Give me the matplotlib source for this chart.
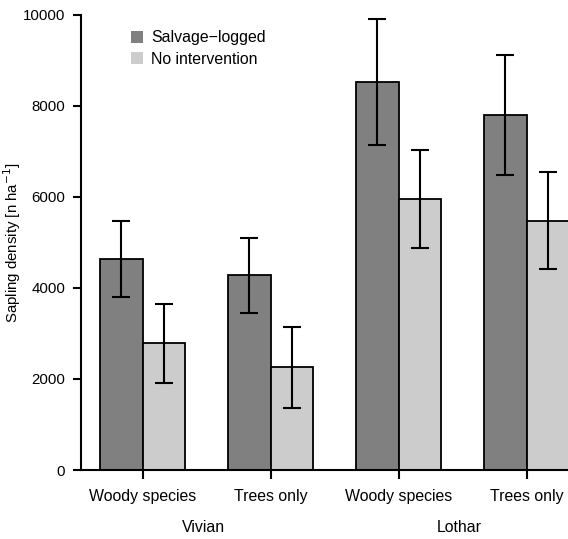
import matplotlib
matplotlib.use("Agg")
import matplotlib.pyplot as plt
from matplotlib.patches import Patch
import matplotlib.transforms as mtransforms

plt.rcParams['font.family'] = ['Liberation Sans', 'DejaVu Sans']

# Sapling density data
groups = ["Vivian", "Lothar"]
categories = ["Woody species", "Trees only", "Woody species", "Trees only"]
salvage_mean = [4630, 4276, 8520, 7790]
salvage_err = [840, 820, 1380, 1315]
nointerv_mean = [2780, 2255, 5950, 5470]
nointerv_err = [860, 890, 1075, 1065]
series_names = ["Salvage\u2212logged", "No intervention"]
colors = ["#808080", "#cccccc"]
yticks = [0, 2000, 4000, 6000, 8000, 10000]

W, H = 568, 539
fig = plt.figure(figsize=(W / 100, H / 100), dpi=100)
ax = fig.add_axes([80.7 / W, 1 - 470 / H, (W - 80.7) / W, (470 - 14.7) / H])

fs = 11.4
fs_num = 10.8
# bar layout: two bars of unit width per group, one unit gap between groups
n = len(categories)
left_dark = [1 + 3 * i for i in range(n)]
left_light = [2 + 3 * i for i in range(n)]
centers = [2 + 3 * i for i in range(n)]

ax.bar(left_dark, salvage_mean, width=1, align='edge', color=colors[0],
       edgecolor='black', linewidth=1.3, zorder=2)
ax.bar(left_light, nointerv_mean, width=1, align='edge', color=colors[1],
       edgecolor='black', linewidth=1.3, zorder=2)
ax.errorbar([x + 0.5 for x in left_dark], salvage_mean, yerr=salvage_err,
            fmt='none', ecolor='black', elinewidth=1.5, capsize=6.7,
            capthick=1.5, zorder=3)
ax.errorbar([x + 0.5 for x in left_light], nointerv_mean, yerr=nointerv_err,
            fmt='none', ecolor='black', elinewidth=1.5, capsize=6.7,
            capthick=1.5, zorder=3)

x0 = 57.3
unit = 42.67
ax.set_xlim((80.7 - x0) / unit, (W - x0) / unit)
ax.set_ylim(0, 10000)

for s in ['top', 'right']:
    ax.spines[s].set_visible(False)
ax.spines['left'].set_linewidth(1.5)
ax.spines['bottom'].set_linewidth(1.5)
ax.spines['bottom'].set_zorder(4)

ax.set_yticks(yticks)
ax.set_yticklabels([str(v) for v in yticks], fontsize=fs_num)
ax.set_xticks(centers)
ax.set_xticklabels(categories, fontsize=fs)
ax.tick_params(axis='y', length=6.1, width=1.5, pad=5)
ax.tick_params(axis='x', length=6.5, width=1.5, pad=7.5)

ax.set_ylabel("Sapling density [n ha$^{-1}$]", fontsize=fs_num)
ax.yaxis.set_label_coords(-(80.7 - 23.5) / (W - 80.7), 0.5)

# storm names below the category labels
trans = mtransforms.blended_transform_factory(ax.transData, fig.transFigure)
for gi, g in enumerate(groups):
    gx = (centers[2 * gi] + centers[2 * gi + 1]) / 2 - 0.07
    ax.text(gx, 1 - 528 / H, g, transform=trans, ha='center', va='center',
            fontsize=fs, clip_on=False)

handles = [Patch(facecolor=c, edgecolor='none') for c in colors]
leg = ax.legend(handles, series_names, loc='upper left', frameon=False,
                fontsize=fs, handlelength=0.76, handleheight=0.76,
                handletextpad=0.5, labelspacing=0.38, borderaxespad=0,
                borderpad=0,
                bbox_to_anchor=((131 - 80.7) / (W - 80.7), 1 - (30.5 - 14.7) / (470 - 14.7)))

fig.savefig("out.png", dpi=100)
